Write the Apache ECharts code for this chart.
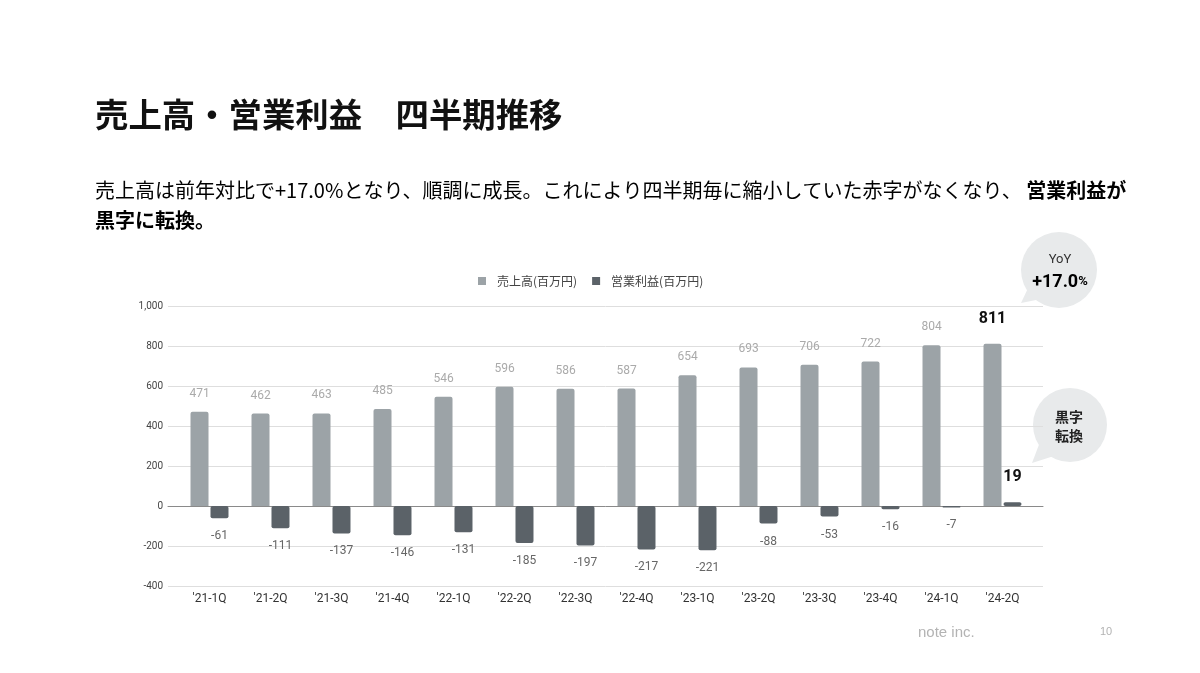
<!DOCTYPE html>
<html><head><meta charset="utf-8">
<script src="https://cdn.jsdelivr.net/npm/echarts@6/dist/echarts.min.js"></script>
<style>html,body{margin:0;padding:0;background:#fff}#c{width:1200px;height:673px}</style>
</head><body><div id="c"></div>
<script>
const categories = ["'21-1Q","'21-2Q","'21-3Q","'21-4Q","'22-1Q","'22-2Q","'22-3Q","'22-4Q","'23-1Q","'23-2Q","'23-3Q","'23-4Q","'24-1Q","'24-2Q"];
const revenue = [471,462,463,485,546,596,586,587,654,693,706,722,804,811];
const profit = [-61,-111,-137,-146,-131,-185,-197,-217,-221,-88,-53,-16,-7,19];
const yTicks = {min:-400, max:1000, interval:200};
const seriesNames = ['売上高(百万円)','営業利益(百万円)'];

const NUM = 'Roboto, "Noto Sans CJK JP", sans-serif';
const JP = '"Noto Sans CJK JP", sans-serif';
const last = categories.length - 1;
const hl = {fontSize:16, fontWeight:'bold', color:'#111', distance:17};

const chart = echarts.init(document.getElementById('c'), null, {renderer:'canvas'});
chart.setOption({
  animation:false,
  backgroundColor:'#fff',
  textStyle:{fontFamily:NUM},
  legend:{
    top:275, left:478, padding:0, itemWidth:8, itemHeight:8, itemGap:15, icon:'rect',
    textStyle:{fontFamily:JP, fontSize:12, color:'#444', padding:[0,0,0,6]},
    data:seriesNames
  },
  grid:[
    {left:168, right:157, top:306, height:280},
    {left:179, width:854, top:306, height:280}
  ],
  xAxis:[
    {gridIndex:0, type:'category', data:categories, axisLabel:{show:false}, axisTick:{show:false},
     axisLine:{show:true, onZero:true, lineStyle:{color:'#8a8a8a', width:1}}},
    {gridIndex:1, type:'category', data:categories, axisTick:{show:false},
     axisLine:{show:false, onZero:false},
     axisLabel:{fontSize:12, color:'#333', margin:7, fontFamily:NUM}}
  ],
  yAxis:[
    {gridIndex:0, type:'value', min:yTicks.min, max:yTicks.max, interval:yTicks.interval,
     axisLine:{show:false}, axisTick:{show:false},
     axisLabel:{fontSize:10, color:'#444', margin:5, fontFamily:NUM},
     splitLine:{lineStyle:{color:'#dedede', width:1}}},
    {gridIndex:1, type:'value', min:yTicks.min, max:yTicks.max, interval:yTicks.interval, show:false,
     splitLine:{show:false}}
  ],
  series:[
    {name:seriesNames[0], type:'bar', xAxisIndex:1, yAxisIndex:1, barWidth:18, barGap:'11%',
     itemStyle:{color:'#9ca3a7', borderRadius:[2,2,0,0]},
     label:{show:true, position:'top', distance:12, fontSize:12, color:'#aaaaaa', fontFamily:NUM},
     data:revenue.map((v,i)=> i===last ? {value:v, label:hl} : v)},
    {name:seriesNames[1], type:'bar', xAxisIndex:1, yAxisIndex:1, barWidth:18, barGap:'11%',
     itemStyle:{color:'#5b6268', borderRadius:2},
     label:{show:true, position:'bottom', distance:12, fontSize:12, color:'#666', fontFamily:NUM},
     data:profit.map((v,i)=> v>=0 ? {value:v, label:Object.assign({position:'top'}, hl)} : v)}
  ],
  graphic:[
    {type:'text', left:95, top:98, style:{text:'売上高・営業利益　四半期推移', font:'bold 33.4px "Noto Sans CJK JP"', fill:'#111'}},
    {type:'text', left:95, top:180, style:{
      text:'{n|売上高は前年対比で+17.0%となり、順調に成長。これにより四半期毎に縮小していた赤字がなくなり、 }{b|営業利益が}\n{b|黒字に転換。}',
      rich:{
        n:{fontFamily:JP, fontSize:20, color:'#222', lineHeight:30},
        b:{fontFamily:JP, fontSize:20, fontWeight:'bold', color:'#111', lineHeight:30}
      }}},
    {type:'polygon', shape:{points:[[1030,284],[1046,298],[1021,303]]}, style:{fill:'#e8eaeb'}},
    {type:'circle', shape:{cx:1059, cy:270, r:38}, style:{fill:'#e8eaeb'}},
    {type:'text', x:1060, y:260, style:{text:'YoY', font:'13px Roboto', fill:'#333', align:'center', verticalAlign:'middle'}},
    {type:'text', x:1060, y:282, style:{text:'{a|+17.0}{p|%}', align:'center', verticalAlign:'middle',
      rich:{a:{fontFamily:'Roboto', fontSize:18, fontWeight:'bold', color:'#222'}, p:{fontFamily:'Roboto', fontSize:13, fontWeight:'bold', color:'#222'}}}},
    {type:'polygon', shape:{points:[[1040,442],[1054,456],[1032,463]]}, style:{fill:'#e8eaeb'}},
    {type:'circle', shape:{cx:1070, cy:425, r:37}, style:{fill:'#e8eaeb'}},
    {type:'text', x:1069, y:426, style:{text:'黒字\n転換', font:'bold 14px "Noto Sans CJK JP"', lineHeight:19, fill:'#222', align:'center', verticalAlign:'middle'}},
    {type:'text', x:918, y:633, style:{text:'note inc.', font:'15px "Liberation Sans", Arial', fill:'#b3b3b3', verticalAlign:'middle'}},
    {type:'text', x:1100, y:632, style:{text:'10', font:'11px "Liberation Sans", Arial', fill:'#b3b3b3', verticalAlign:'middle'}}
  ]
});
</script></body></html>
